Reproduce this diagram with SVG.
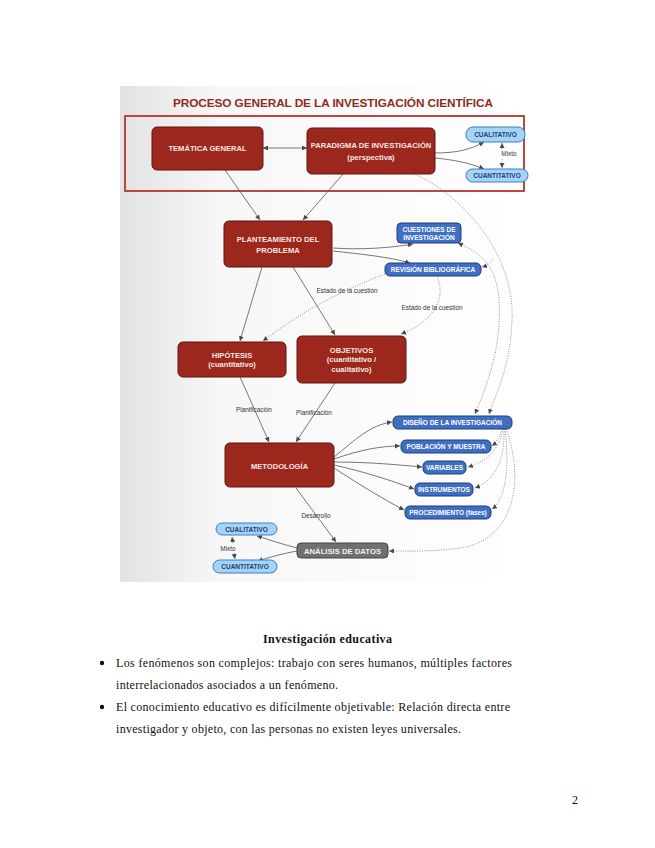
<svg xmlns="http://www.w3.org/2000/svg" width="655" height="848" viewBox="0 0 655 848">
<defs>
<linearGradient id="bg" x1="0" y1="0" x2="1" y2="0">
<stop offset="0" stop-color="#e3e3e3"/>
<stop offset="0.25" stop-color="#f7f7f7"/>
<stop offset="1" stop-color="#ffffff"/>
</linearGradient>
<marker id="ar" markerUnits="userSpaceOnUse" markerWidth="6" markerHeight="6" refX="5" refY="2.5" orient="auto-start-reverse">
<path d="M0,0 L5,2.5 L0,5 z" fill="#4a4a4a"/>
</marker>
<style>
.red rect{fill:#9c271c;stroke:#5e1510;stroke-width:1}
.red text{fill:#f6e6e3;font-family:"Liberation Sans",Arial,sans-serif;font-weight:bold;font-size:7.6px;text-anchor:middle}
.blue rect{fill:#3f6ec2;stroke:#1f3f7a;stroke-width:1}
.blue text{fill:#ffffff;font-family:"Liberation Sans",Arial,sans-serif;font-weight:bold;font-size:6.5px;text-anchor:middle}
.lb rect{fill:#a3d4f7;stroke:#3b7fc4;stroke-width:1}
.lb text{fill:#1d3f73;font-family:"Liberation Sans",Arial,sans-serif;font-weight:bold;font-size:6.5px;text-anchor:middle}
.gray rect{fill:#707070;stroke:#454545;stroke-width:1}
.gray text{fill:#f2f2f2;font-family:"Liberation Sans",Arial,sans-serif;font-weight:bold;font-size:7.7px;text-anchor:middle}
.c{fill:none;stroke:#555;stroke-width:0.8;marker-end:url(#ar)}
.d{fill:none;stroke:#777;stroke-width:0.8;stroke-dasharray:1 1.4;marker-end:url(#ar)}
.lbl{fill:#333;font-family:"Liberation Sans",Arial,sans-serif;font-size:6.4px;text-anchor:middle}
.body{fill:#111;font-family:"Liberation Serif","Times New Roman",serif;font-size:12px}
</style>
</defs>
<rect width="655" height="848" fill="#ffffff"/>
<rect x="120" y="86" width="405" height="496" fill="url(#bg)"/>
<text x="333" y="107" text-anchor="middle" font-family="Liberation Sans,Arial,sans-serif" font-weight="bold" font-size="11.8" fill="#8f2b23" textLength="320">PROCESO GENERAL DE LA INVESTIGACIÓN CIENTÍFICA</text>
<rect id="frame" x="125" y="116" width="399" height="75" fill="none" stroke="#bd463e" stroke-width="2"/>

<g id="connectors">
<path class="c" d="M263,148 L307,148" marker-start="url(#ar)"/>
<path class="c" d="M435,153 C455,153 470,150 484,142"/>
<path class="c" d="M435,158 C455,160 470,163 484,169"/>
<path class="d" d="M502,149 L502,143"/>
<path class="d" d="M502,159 L502,168"/>
<path class="c" d="M225,170 L260,220"/>
<path class="c" d="M343,174 L303,220"/>
<path class="d" d="M415,174 C470,200 515,260 512,320 C510,370 495,395 489,414"/>
<path class="d" d="M458,243 C478,252 496,262 499,300 C502,350 485,390 475,414" marker-start="url(#ar)"/>
<path class="d" d="M493,259 Q489,265 482,267"/>
<path class="c" d="M333,248 C360,250 390,248 413,244"/>
<path class="c" d="M333,251 C360,254 390,257 410,263"/>
<path class="d" d="M385,274 C330,295 290,320 263,341"/>
<path class="d" d="M437,276 C447,300 432,322 401,334"/>
<path class="c" d="M262,267 L240,341"/>
<path class="c" d="M293,267 L335,335"/>
<path class="c" d="M240,377 L269,442"/>
<path class="c" d="M335,383 L296,442"/>
<path class="c" d="M334,457 C355,440 370,425 392,422"/>
<path class="c" d="M334,459 C360,450 380,446 400,446"/>
<path class="c" d="M334,462 C370,462 400,465 422,467"/>
<path class="c" d="M334,465 C365,472 390,480 414,489"/>
<path class="c" d="M334,468 C360,485 385,500 404,510"/>
<path class="d" d="M502,429 C500,436 497,442 492,446"/>
<path class="d" d="M503,429 C500,450 485,462 468,467"/>
<path class="d" d="M504,429 C505,460 495,480 475,488"/>
<path class="d" d="M505,429 C510,470 505,500 492,509"/>
<path class="d" d="M506,429 C525,480 515,540 460,548 C430,552 410,551 389,551"/>
<path class="c" d="M296,488 L336,542"/>
<path class="c" d="M297,548 C285,545 270,540 257,536"/>
<path class="c" d="M297,551 C285,553 270,557 258,561"/>
<path class="d" d="M233,543 L232,537"/>
<path class="d" d="M234,553 L235,559"/>
<text class="lbl" x="509" y="156">Mixto</text>
<text class="lbl" x="347" y="293">Estado de la cuestión</text>
<text class="lbl" x="432" y="310">Estado de la cuestión</text>
<text class="lbl" x="254" y="412">Planificación</text>
<text class="lbl" x="314" y="415">Planificación</text>
<text class="lbl" x="316" y="518">Desarrollo</text>
<text class="lbl" x="228" y="551">Mixto</text>
</g>

<g id="tematica" class="red"><rect x="152" y="127" width="111" height="43" rx="5"/><text x="207.5" y="151">TEMÁTICA GENERAL</text></g>
<g id="paradigma" class="red"><rect x="307" y="128" width="128" height="46" rx="5"/><text x="371" y="148">PARADIGMA DE INVESTIGACIÓN</text><text x="371" y="159.5">(perspectiva)</text></g>
<g id="cualitativo1" class="lb"><rect x="466" y="127" width="59" height="15" rx="7"/><text x="495.5" y="137">CUALITATIVO</text></g>
<g id="cuantitativo1" class="lb"><rect x="466" y="169" width="62" height="13" rx="6.5"/><text x="497" y="178">CUANTITATIVO</text></g>
<g id="planteamiento" class="red"><rect x="224" y="221" width="108" height="46" rx="5"/><text x="278" y="241.5">PLANTEAMIENTO DEL</text><text x="278" y="252.5">PROBLEMA</text></g>
<g id="cuestiones" class="blue"><rect x="397" y="223" width="64" height="20" rx="4"/><text x="429" y="231.5">CUESTIONES DE</text><text x="429" y="239.5">INVESTIGACIÓN</text></g>
<g id="revision" class="blue"><rect x="385" y="263" width="96" height="13" rx="5"/><text x="433" y="272">REVISIÓN BIBLIOGRÁFICA</text></g>
<g id="hipotesis" class="red"><rect x="178" y="342" width="108" height="35" rx="5"/><text x="232" y="357.5">HIPÓTESIS</text><text x="232" y="367">(cuantitativo)</text></g>
<g id="objetivos" class="red"><rect x="297" y="336" width="109" height="47" rx="5"/><text x="351.5" y="352.5">OBJETIVOS</text><text x="351.5" y="362">(cuantitativo /</text><text x="351.5" y="371.5">cualitativo)</text></g>
<g id="metodologia" class="red"><rect x="225" y="443" width="109" height="44" rx="5"/><text x="279.5" y="468.5">METODOLOGÍA</text></g>
<g id="diseno" class="blue"><rect x="393" y="416" width="119" height="13" rx="5"/><text x="452.5" y="424.5">DISEÑO DE LA INVESTIGACIÓN</text></g>
<g id="poblacion" class="blue"><rect x="401" y="440" width="90" height="13" rx="5"/><text x="446" y="449">POBLACIÓN Y MUESTRA</text></g>
<g id="variables" class="blue"><rect x="423" y="461" width="43" height="13" rx="5"/><text x="444.5" y="470">VARIABLES</text></g>
<g id="instrumentos" class="blue"><rect x="415" y="483" width="58" height="13" rx="5"/><text x="444" y="492">INSTRUMENTOS</text></g>
<g id="procedimiento" class="blue"><rect x="405" y="506" width="86" height="13" rx="5"/><text x="448" y="515">PROCEDIMIENTO (fases)</text></g>
<g id="analisis" class="gray"><rect x="297" y="543" width="91" height="15" rx="4"/><text x="342.5" y="553.5">ANÁLISIS DE DATOS</text></g>
<g id="cualitativo2" class="lb"><rect x="216" y="523" width="61" height="12" rx="6"/><text x="246.5" y="531.5">CUALITATIVO</text></g>
<g id="cuantitativo2" class="lb"><rect x="213" y="560" width="64" height="13" rx="6.5"/><text x="245" y="569">CUANTITATIVO</text></g>

<text class="body" x="327.5" y="643" text-anchor="middle" font-weight="bold" textLength="129">Investigación educativa</text>
<circle cx="102" cy="663" r="2.2" fill="#111"/>
<text class="body" x="116" y="667" textLength="396">Los fenómenos son complejos: trabajo con seres humanos, múltiples factores</text>
<text class="body" x="116" y="689" textLength="222">interrelacionados asociados a un fenómeno.</text>
<circle cx="102" cy="707" r="2.2" fill="#111"/>
<text class="body" x="116" y="711" textLength="394">El conocimiento educativo es difícilmente objetivable: Relación directa entre</text>
<text class="body" x="116" y="733" textLength="345">investigador y objeto, con las personas no existen leyes universales.</text>
<text class="body" x="572" y="804">2</text>
</svg>
